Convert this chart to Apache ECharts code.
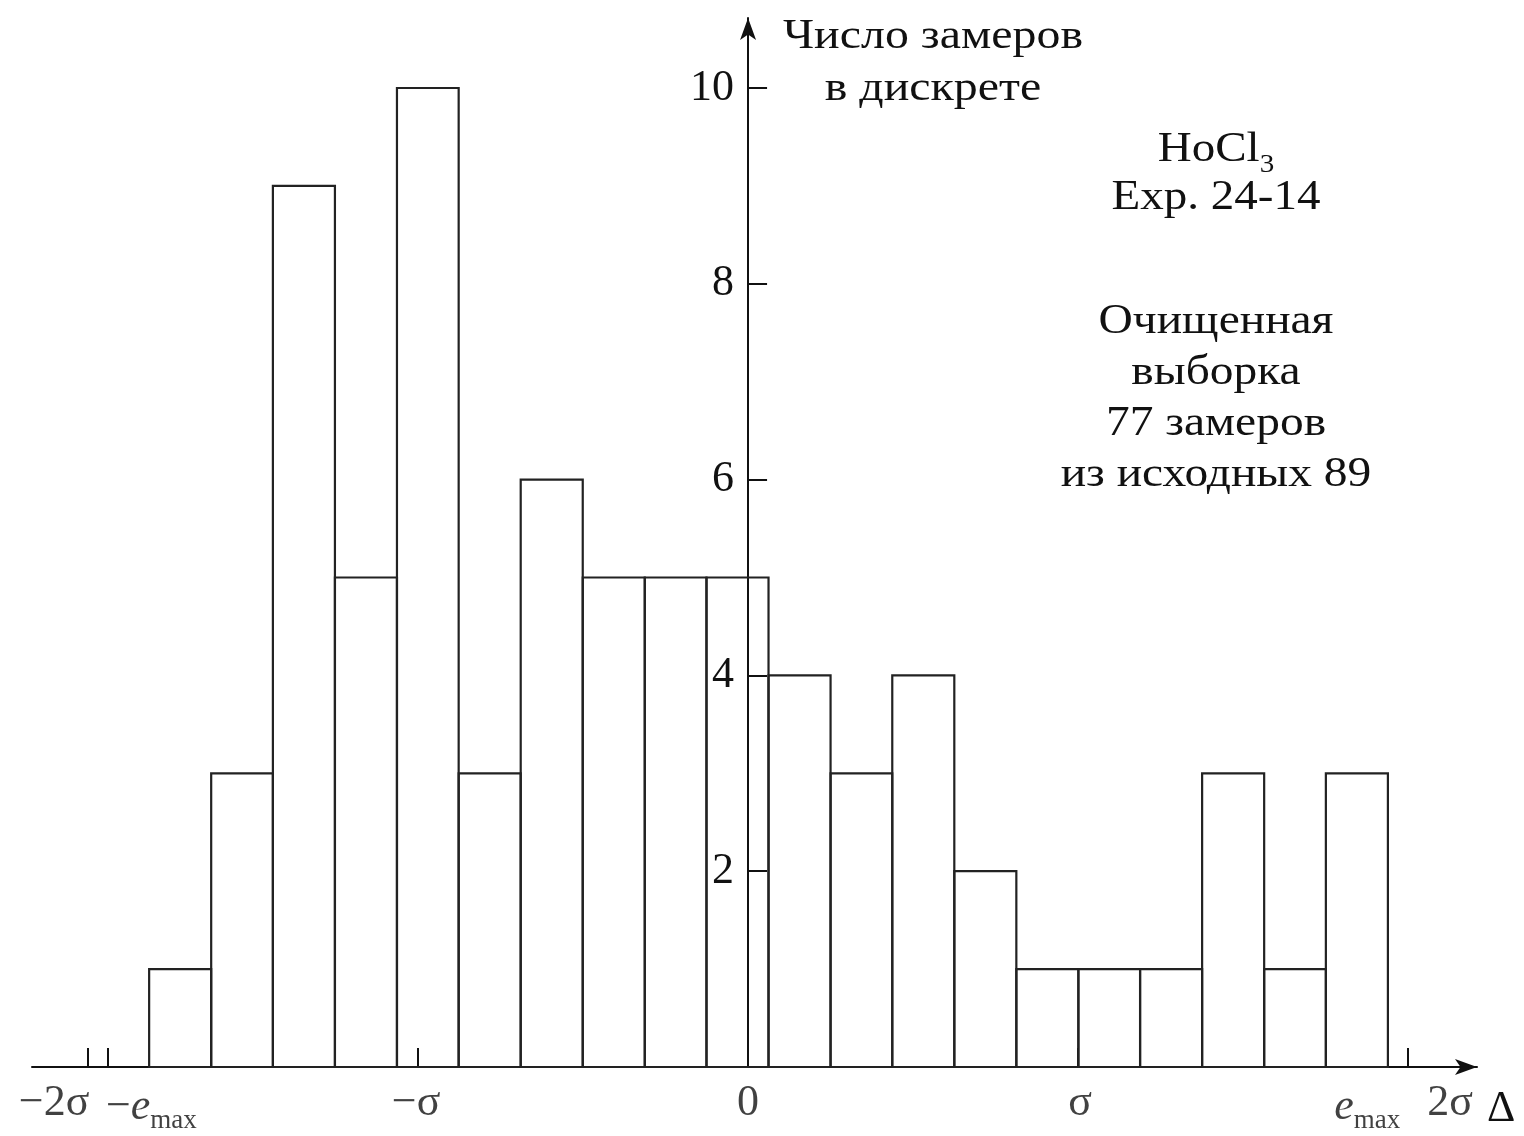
<!DOCTYPE html>
<html>
<head>
<meta charset="utf-8">
<script src="https://cdn.jsdelivr.net/npm/echarts@6/dist/echarts.min.js"></script>
<style>
  html, body { margin: 0; padding: 0; background: #ffffff; }
  #chart { width: 1524px; height: 1136px; }
</style>
</head>
<body>
<div id="chart"></div>
<script>
// Bin edges of the histogram, in units of sigma
const binEdges = [-1.815, -1.627, -1.440, -1.252, -1.064, -0.877, -0.689, -0.501, -0.313, -0.126,
                  0.062, 0.250, 0.437, 0.625, 0.813, 1.001, 1.188, 1.376, 1.564, 1.751, 1.939];
// Number of measurements in each bin
const counts = [1, 3, 9, 5, 10, 3, 6, 5, 5, 5, 4, 3, 4, 2, 1, 1, 1, 3, 1, 3];
// Marked points on the deviation axis (sigma units)
const eMax = 1.94;
const xTickValues = [-2, -eMax, -1, 1, eMax, 2];
const xLabelValues = [-2, -eMax, -1, 0, 1, eMax, 2];
const xLabelTexts = ['−2σ', '{t|−}{i|e}{s|max}', '−σ', '0', 'σ', '{i|e}{s|max}', '2σ'];
// Count axis ticks
const yTickValues = [2, 4, 6, 8, 10];

const FONT = "'Liberation Serif', 'Times New Roman', serif";
const INK = '#111';

const X_MIN = -2.17, X_MAX = 2.209;
const GRID = { left: 32, right: 47, top: 18, bottom: 69 };

const barData = counts.map((c, i) => [binEdges[i], binEdges[i + 1], c]);

// horizontal nudges that keep neighbouring tick labels apart
const labelShift = [-34, -2, -2, 0, 2, -21, 42];
const labelAlign = ['center', 'left', 'center', 'center', 'center', 'center', 'center'];

const labelRich = {
  t: { fontFamily: FONT, fontSize: 44, color: INK },
  i: { fontFamily: FONT, fontSize: 44, fontStyle: 'italic', color: INK },
  s: { fontFamily: FONT, fontSize: 27, color: INK, padding: [26, 0, 0, 0] }
};

// the count axis stands at zero of the deviation axis
const plotWidth = 1524 - GRID.left - GRID.right;
const yAxisShift = -plotWidth * (0 - X_MIN) / (X_MAX - X_MIN);

const chart = echarts.init(document.getElementById('chart'), null, { renderer: 'canvas' });

chart.setOption({
  backgroundColor: '#ffffff',
  animation: false,
  grid: {
    left: GRID.left, right: GRID.right, top: GRID.top, bottom: GRID.bottom,
    containLabel: false,
    outerBoundsMode: 'none'
  },
  xAxis: {
    type: 'value',
    min: X_MIN,
    max: X_MAX,
    name: 'Δ',
    nameLocation: 'end',
    nameGap: 10,
    nameTextStyle: {
      fontFamily: FONT, fontSize: 44, color: INK,
      verticalAlign: 'top', padding: [20, 0, 0, 0]
    },
    axisLine: {
      onZero: false,
      symbol: ['none', 'arrow'],
      symbolSize: [12, 22],
      lineStyle: { color: INK, width: 2 }
    },
    axisTick: {
      show: true,
      inside: true,
      length: 19,
      customValues: xTickValues,
      lineStyle: { color: INK, width: 2 }
    },
    axisLabel: { show: false },
    splitLine: { show: false }
  },
  yAxis: {
    type: 'value',
    min: 0,
    max: 10.715,
    offset: yAxisShift,
    axisLine: {
      onZero: false,
      symbol: ['none', 'arrow'],
      symbolSize: [12, 22],
      lineStyle: { color: INK, width: 2 }
    },
    axisTick: {
      show: true,
      inside: true,
      length: 19,
      customValues: yTickValues,
      lineStyle: { color: INK, width: 2 }
    },
    axisLabel: {
      customValues: yTickValues,
      margin: 14,
      fontFamily: FONT,
      fontSize: 44,
      color: INK
    },
    splitLine: { show: false }
  },
  series: [
    {
      type: 'custom',
      name: 'counts',
      data: barData,
      encode: { x: [0, 1], y: 2 },
      clip: false,
      z: 3,
      renderItem: function (params, api) {
        const top = api.coord([api.value(0), api.value(2)]);
        const base = api.coord([api.value(1), 0]);
        return {
          type: 'rect',
          shape: { x: top[0], y: top[1], width: base[0] - top[0], height: base[1] - top[1] },
          style: { fill: 'none', stroke: '#222', lineWidth: 2.2 }
        };
      }
    },
    {
      type: 'scatter',
      name: 'tick labels',
      symbolSize: 0,
      clip: false,
      silent: true,
      z: 4,
      data: xLabelValues.map((v, i) => ({
        value: [v, 0],
        label: {
          show: true,
          position: 'bottom',
          distance: 14,
          offset: [labelShift[i], 0],
          align: labelAlign[i],
          formatter: xLabelTexts[i],
          fontFamily: FONT,
          fontSize: 44,
          color: INK,
          rich: labelRich
        }
      }))
    }
  ],
  graphic: [
    {
      type: 'text',
      x: 933,
      y: 11,
      scaleX: 1.14,
      style: {
        text: 'Число замеров\nв дискрете',
        fontFamily: FONT, fontSize: 42, lineHeight: 52,
        align: 'center', verticalAlign: 'top', fill: INK
      }
    },
    {
      type: 'text',
      x: 1216,
      y: 126,
      scaleX: 1.12,
      style: {
        text: '{n|HoCl}{s|3}\n{n|Exp. 24-14}',
        align: 'center', verticalAlign: 'top',
        rich: {
          n: { fontFamily: FONT, fontSize: 42, lineHeight: 48, fill: INK },
          s: { fontFamily: FONT, fontSize: 26, lineHeight: 48, fill: INK, padding: [30, 0, 0, 0] }
        }
      }
    },
    {
      type: 'text',
      x: 1216,
      y: 296,
      scaleX: 1.13,
      style: {
        text: 'Очищенная\nвыборка\n77 замеров\nиз исходных 89',
        fontFamily: FONT, fontSize: 42, lineHeight: 51,
        align: 'center', verticalAlign: 'top', fill: INK
      }
    }
  ]
});
</script>
</body>
</html>
